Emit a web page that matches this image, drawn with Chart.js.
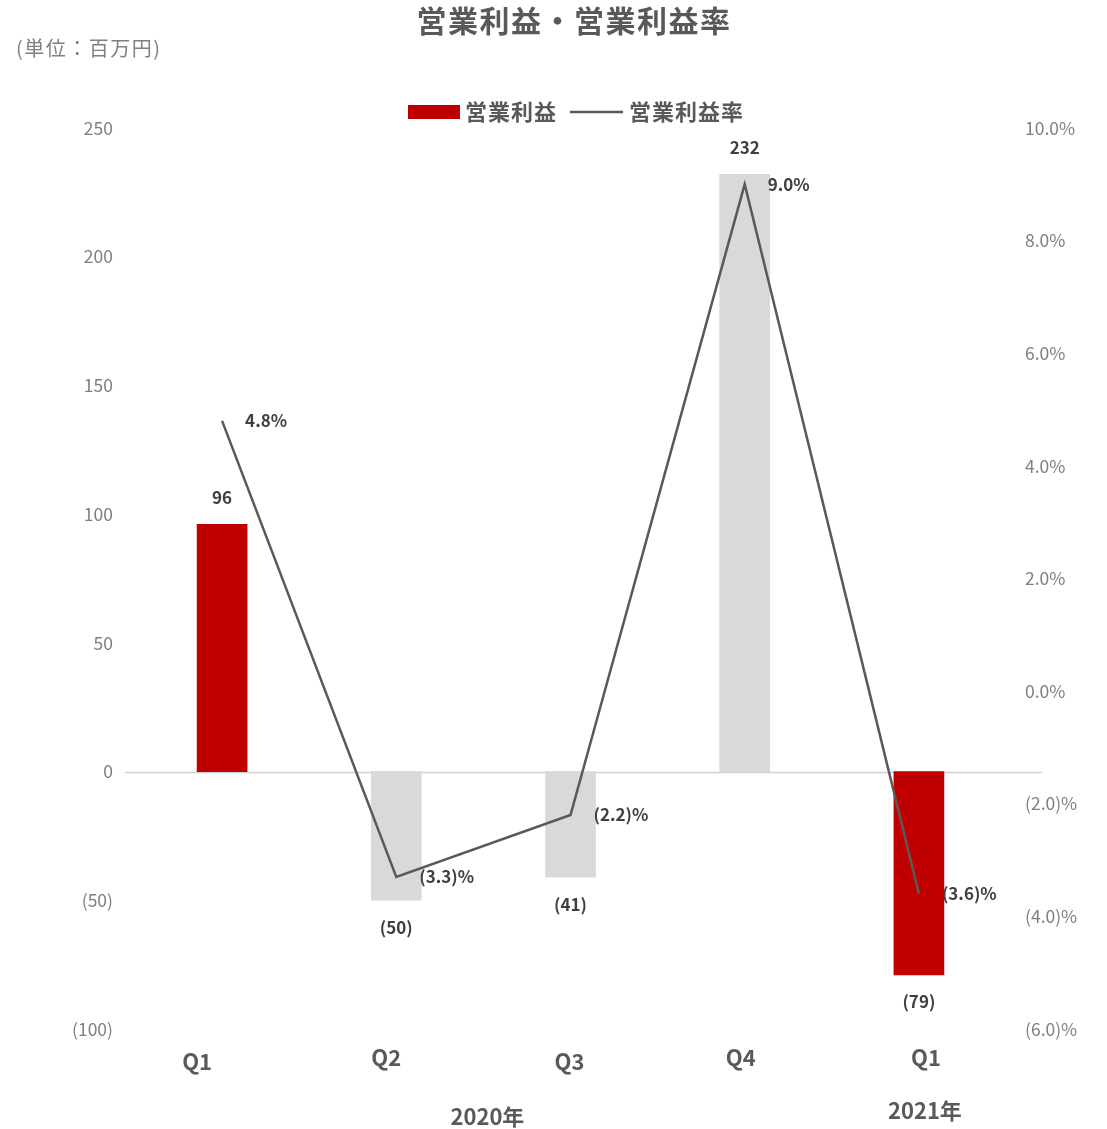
<!DOCTYPE html>
<html><head><meta charset="utf-8">
<script src="https://cdn.jsdelivr.net/npm/chart.js@4/dist/chart.umd.min.js"></script>
<style>html,body{margin:0;padding:0;background:#fff;}canvas{display:block;}</style>
</head><body>
<canvas id="c" width="1107" height="1129"></canvas>
<script>
const categories = ['Q1','Q2','Q3','Q4','Q1'];
const groups = [{label:'2020年', from:0, to:3}, {label:'2021年', from:4, to:4}];
const profit = [96, -50, -41, 232, -79];
const margin = [4.8, -3.3, -2.2, 9.0, -3.6];
const highlight = [true, false, false, false, true];
const leftTicks = {min:-100, max:250, step:50};
const rightTicks = {min:-6, max:10, step:2};
const title = '営業利益・営業利益率';
const unitText = '(単位：百万円)';
const seriesNames = ['営業利益', '営業利益率'];

const RED = '#C00000', GRAY_BAR = '#D9D9D9', LINE = '#595959', TXT = '#595959', LBL = '#404040';
const FONT = '"Noto Sans CJK JP", "Noto Sans", sans-serif';

function fmtNum(v){ return v < 0 ? '(' + (-v) + ')' : String(v); }
function fmtPct(v){ const a = Math.abs(v).toFixed(1); return v < 0 ? '(' + a + ')%' : a + '%'; }

const decor = {
  id: 'decor',
  beforeDatasetsDraw(chart){
    const ctx = chart.ctx, y = chart.scales.y, ca = chart.chartArea;
    const py = Math.round(y.getPixelForValue(0)) + 0.5;
    ctx.save();
    ctx.strokeStyle = '#D0D0D0'; ctx.lineWidth = 1.5;
    ctx.beginPath(); ctx.moveTo(ca.left - 10, py); ctx.lineTo(ca.right + 36, py); ctx.stroke();
    ctx.restore();
  },
  afterDatasetsDraw(chart){
    const ctx = chart.ctx, x = chart.scales.x;
    ctx.save();
    // bar labels
    ctx.font = 'bold 17px ' + FONT; ctx.fillStyle = LBL; ctx.textAlign = 'center'; ctx.textBaseline = 'middle';
    chart.getDatasetMeta(1).data.forEach((el, i) => {
      const v = profit[i];
      const yy = v >= 0 ? el.y - 27 : el.y + 27;
      ctx.fillText(fmtNum(v), el.x, yy);
    });
    // line labels
    ctx.textAlign = 'left';
    chart.getDatasetMeta(0).data.forEach((el, i) => {
      ctx.fillText(fmtPct(margin[i]), el.x + 23, el.y);
    });
    // title
    ctx.fillStyle = TXT; ctx.textAlign = 'center';
    ctx.font = 'bold 30px ' + FONT;
    ctx.letterSpacing = '1.5px';
    ctx.fillText(title, 574, 21);
    // unit
    ctx.font = '20px ' + FONT; ctx.fillStyle = '#7F7F7F'; ctx.textAlign = 'left';
    ctx.letterSpacing = '1.5px';
    ctx.fillText(unitText, 16, 48);
    // legend
    ctx.letterSpacing = '1px';
    ctx.fillStyle = RED; ctx.fillRect(408, 105, 52, 14);
    ctx.fillStyle = TXT; ctx.font = 'bold 22px ' + FONT;
    ctx.fillText(seriesNames[0], 465, 112);
    ctx.strokeStyle = LINE; ctx.lineWidth = 2.5;
    ctx.beginPath(); ctx.moveTo(570, 112); ctx.lineTo(623, 112); ctx.stroke();
    ctx.fillText(seriesNames[1], 629, 112);
    ctx.letterSpacing = '0px';
    // category labels
    const nudgeX = [-25, -10, -1, -4, 7], nudgeY = [1062, 1058, 1062, 1058, 1058];
    ctx.font = 'bold 22px ' + FONT; ctx.textAlign = 'center';
    categories.forEach((c, i) => ctx.fillText(c, x.getPixelForValue(i) + nudgeX[i], nudgeY[i]));
    // group labels
    const gy = [1117, 1111], gdx = [4, 6];
    groups.forEach((g, k) => {
      const cx = (x.getPixelForValue(g.from) + x.getPixelForValue(g.to)) / 2;
      ctx.fillText(g.label, cx + gdx[k], gy[k]);
    });
    ctx.restore();
  }
};

new Chart(document.getElementById('c'), {
  data: {
    labels: categories,
    datasets: [
      { type: 'line', label: seriesNames[1], data: margin, yAxisID: 'y2', order: 0,
        borderColor: LINE, borderWidth: 2.5, pointRadius: 0, tension: 0, fill: false },
      { type: 'bar', label: seriesNames[0], data: profit, yAxisID: 'y', order: 1,
        backgroundColor: highlight.map(h => h ? RED : GRAY_BAR), barThickness: 50, borderWidth: 0 }
    ]
  },
  options: {
    responsive: false, animation: false,
    layout: { padding: { top: 128, bottom: 100, left: 0, right: 0 } },
    plugins: { legend: { display: false }, title: { display: false }, tooltip: { enabled: false } },
    scales: {
      x: { display: false, grid: { display: false } },
      y: { position: 'left', min: leftTicks.min, max: leftTicks.max,
        grid: { display: false, drawTicks: false }, border: { display: false },
        ticks: { stepSize: leftTicks.step, padding: 22, color: '#7F7F7F',
          font: { family: FONT, size: 17.5 }, callback: v => fmtNum(v) },
        afterFit: s => { s.width = 135; } },
      y2: { position: 'right', min: rightTicks.min, max: rightTicks.max,
        grid: { display: false, drawTicks: false }, border: { display: false },
        ticks: { stepSize: rightTicks.step, padding: 19, color: '#7F7F7F',
          font: { family: FONT, size: 17.5 }, callback: v => fmtPct(v) },
        afterFit: s => { s.width = 101; } }
    }
  },
  plugins: [decor]
});
</script>
</body></html>
